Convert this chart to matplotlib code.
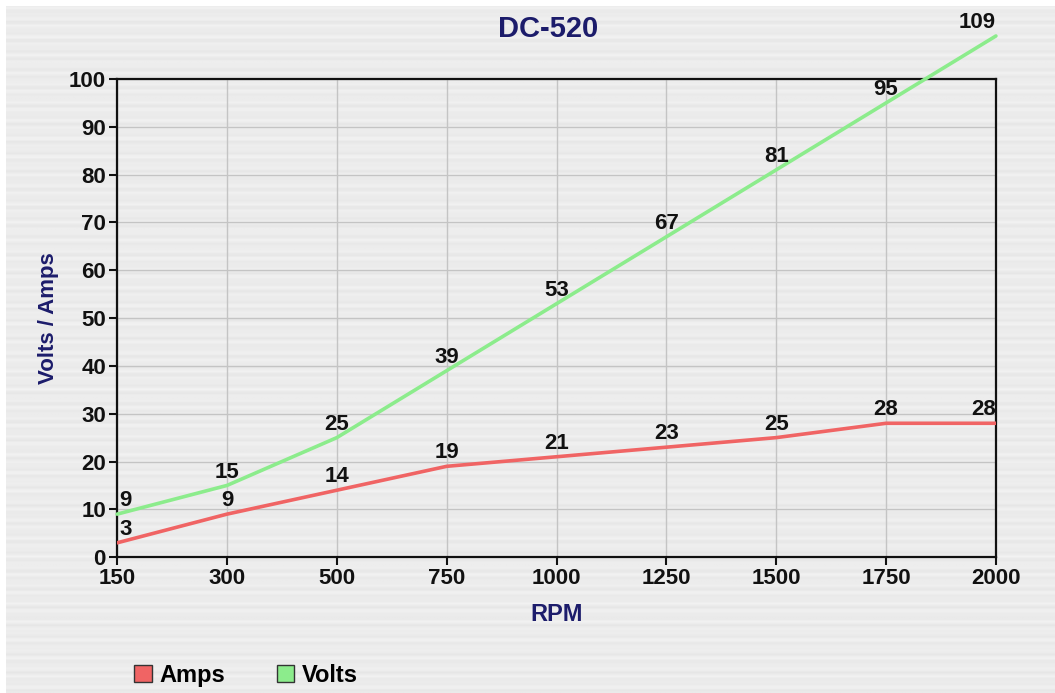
import matplotlib.pyplot as plt
import numpy as np
from matplotlib.patches import Patch

plt.rcParams['font.family'] = ['Liberation Sans', 'DejaVu Sans']

rpm = ['150', '300', '500', '750', '1000', '1250', '1500', '1750', '2000']
amps = [3, 9, 14, 19, 21, 23, 25, 28, 28]
volts = [9, 15, 25, 39, 53, 67, 81, 95, 109]

navy = '#1c1c6b'
amps_color = '#f06464'
volts_color = '#8cec8c'

fig = plt.figure(figsize=(10.55, 6.93), dpi=100)
fig.patch.set_facecolor('white')

# brushed-metal-ish backdrop: gray panel with horizontal streaks
bg = fig.add_axes([0.006, 0.0, 0.994, 0.992], zorder=-10)
rows = 350
shade = 0.925 + 0.025 * np.sin(np.arange(rows) * 1.7) * np.cos(np.arange(rows) * 0.37)
streaks = np.tile(shade[:, None], (1, 60))
bg.imshow(streaks, cmap='gray', vmin=0, vmax=1, aspect='auto', interpolation='bilinear')
bg.set_axis_off()

ax = fig.add_axes([0.111, 0.196, 0.833, 0.690])
ax.set_facecolor('none')
x = np.arange(len(rpm))

ax.plot(x, amps, color=amps_color, lw=2.6, solid_capstyle='round', zorder=3)
ax.plot(x, volts, color=volts_color, lw=2.6, solid_capstyle='round', zorder=3, clip_on=False)

for series in (amps, volts):
    for i, v in enumerate(series):
        ha = 'center'
        dx = 0
        if i == 0:
            ha = 'left'
            dx = 0.02
        elif i == len(series) - 1:
            ha = 'right'
        ax.text(x[i] + dx, v + 0.6, str(v), ha=ha, va='bottom', fontsize=16,
                fontweight='bold', color='#111111', zorder=4, clip_on=False)

ax.set_xlim(0, len(rpm) - 1)
ax.set_ylim(0, 100)
ax.set_xticks(x)
ax.set_xticklabels(rpm)
ax.set_yticks(range(0, 101, 10))
ax.grid(True, color='#c4c4c4', lw=1.0)
ax.set_axisbelow(True)
for s in ax.spines.values():
    s.set_color('#111111')
    s.set_linewidth(1.6)
ax.tick_params(axis='both', labelsize=16, colors='#111111', width=1.5, length=6, pad=2)
for lab in ax.get_xticklabels() + ax.get_yticklabels():
    lab.set_fontweight('bold')

ax.set_title('DC-520', fontsize=21, fontweight='bold', color=navy, pad=30, x=0.49)
ax.set_xlabel('RPM', fontsize=17, fontweight='bold', color=navy, labelpad=10)
ax.set_ylabel('Volts / Amps', fontsize=16, fontweight='bold', color=navy, labelpad=7)

handles = [Patch(facecolor=amps_color, edgecolor='#333333', label='Amps'),
           Patch(facecolor=volts_color, edgecolor='#333333', label='Volts')]
fig.legend(handles=handles, loc='lower left', bbox_to_anchor=(0.107, -0.022), ncol=2,
           frameon=False, prop={'size': 17, 'weight': 'bold'}, handlelength=0.75,
           handleheight=0.75, columnspacing=2.2, handletextpad=0.3)

fig.savefig('out.png', dpi=100)
